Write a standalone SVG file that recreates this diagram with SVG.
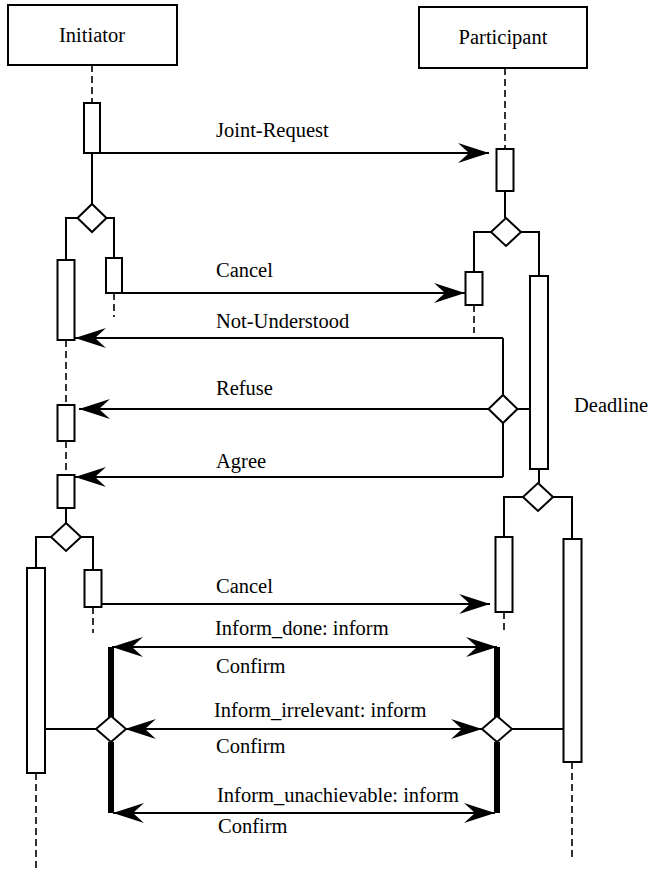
<svg xmlns="http://www.w3.org/2000/svg" width="648" height="871" viewBox="0 0 648 871">
<defs>
<style>
text{font-family:"Liberation Serif","Times New Roman",serif;font-size:20.5px;fill:#000}
.box{fill:#fff;stroke:#000;stroke-width:2}
.act{fill:#fff;stroke:#000;stroke-width:2}
.dia{fill:#fff;stroke:#000;stroke-width:2}
.ln{fill:none;stroke:#000;stroke-width:2}
.dash{fill:none;stroke:#000;stroke-width:1.6;stroke-dasharray:7,4}
.thick{fill:none;stroke:#000;stroke-width:6}
.msg{fill:none;stroke:#000;stroke-width:2}
</style>
<marker id="ah" markerUnits="userSpaceOnUse" markerWidth="34" markerHeight="24" refX="31" refY="11" orient="auto-start-reverse" viewBox="0 0 34 24">
<path d="M31,11 L0,1 L11,11 L0,21 Z" fill="#000"/>
</marker>
</defs>
<rect width="648" height="871" fill="#fff"/>

<g id="initiator">
<rect class="box" x="8" y="5" width="169" height="60"/>
<text x="92" y="42" text-anchor="middle">Initiator</text>
</g>
<g id="participant">
<rect class="box" x="419" y="7" width="168" height="61"/>
<text x="503" y="44" text-anchor="middle">Participant</text>
</g>

<g id="connectors">
<path class="dash" d="M92,65 V103"/>
<path class="ln" d="M92,153 V204"/>
<path class="ln" d="M77.5,218 H66 V260"/>
<path class="ln" d="M106.5,218 H114 V258"/>
<path class="dash" d="M114,293 V317"/>
<path class="dash" d="M66,340 V405"/>
<path class="dash" d="M66,441 V475"/>
<path class="ln" d="M66,508 V523"/>
<path class="ln" d="M51,537 H36 V568"/>
<path class="ln" d="M81,537 H93 V570"/>
<path class="dash" d="M93,607 V633"/>
<path class="dash" d="M36,773 V871"/>

<path class="dash" d="M505,68 V149"/>
<path class="ln" d="M505,191 V218"/>
<path class="ln" d="M491,232 H474 V272"/>
<path class="ln" d="M521,232 H539 V276"/>
<path class="dash" d="M474,305 V333"/>
<path class="ln" d="M503,338 V395"/>
<path class="ln" d="M503,423 V477"/>
<path class="ln" d="M517.5,409 H530"/>
<path class="ln" d="M539,469 V483"/>
<path class="ln" d="M523,497 H504 V537"/>
<path class="ln" d="M553,497 H572 V539"/>
<path class="dash" d="M504,612 V633"/>
<path class="dash" d="M572,762 V858"/>

<path class="msg" d="M100,153 H489" marker-end="url(#ah)"/>
<path class="msg" d="M122,293 H465" marker-end="url(#ah)"/>
<path class="msg" d="M503,338 H75" marker-end="url(#ah)"/>
<path class="msg" d="M488.5,409 H79" marker-end="url(#ah)"/>
<path class="msg" d="M503,477 H75" marker-end="url(#ah)"/>
<path class="msg" d="M101.5,604 H490" marker-end="url(#ah)"/>

<path class="thick" d="M111,647 V717"/>
<path class="thick" d="M497,647 V717"/>
<path class="thick" d="M111,742 V813"/>
<path class="thick" d="M497,742 V813"/>
<path class="msg" d="M112,647 H497" marker-start="url(#ah)" marker-end="url(#ah)"/>
<path class="msg" d="M125,729 H482" marker-start="url(#ah)" marker-end="url(#ah)"/>
<path class="msg" d="M113,813 H495" marker-start="url(#ah)" marker-end="url(#ah)"/>
<path class="ln" d="M45,729 H96"/>
<path class="ln" d="M512,729 H563.5"/>
</g>

<g id="act-i1"><rect class="act" x="84" y="103" width="16" height="50"/></g>
<g id="dec-i1"><path class="dia" d="M92,204 L106.5,218 L92,232 L77.5,218 Z"/></g>
<g id="act-i2"><rect class="act" x="57.5" y="260" width="17" height="80"/></g>
<g id="act-i3"><rect class="act" x="106" y="258" width="16" height="35"/></g>
<g id="act-i4"><rect class="act" x="57.5" y="405" width="17" height="36"/></g>
<g id="act-i5"><rect class="act" x="57.5" y="475" width="17" height="33"/></g>
<g id="dec-i2"><path class="dia" d="M66,523 L81,537 L66,551 L51,537 Z"/></g>
<g id="act-i6"><rect class="act" x="27" y="568" width="18" height="205"/></g>
<g id="act-i7"><rect class="act" x="84.5" y="570" width="17" height="37"/></g>
<g id="dec-i3"><path class="dia" d="M111,716 L126,729 L111,742 L96,729 Z"/></g>

<g id="act-p1"><rect class="act" x="496.5" y="149" width="17" height="42"/></g>
<g id="dec-p1"><path class="dia" d="M506,218 L521,232 L506,246 L491,232 Z"/></g>
<g id="act-p2"><rect class="act" x="465.5" y="272" width="17" height="33"/></g>
<g id="act-p3"><rect class="act" x="530" y="276" width="18" height="193"/></g>
<g id="dec-p2"><path class="dia" d="M503,395 L517.5,409 L503,423 L488.5,409 Z"/></g>
<g id="dec-p3"><path class="dia" d="M538,483 L553,497 L538,511 L523,497 Z"/></g>
<g id="act-p4"><rect class="act" x="495.5" y="537" width="17" height="75"/></g>
<g id="act-p5"><rect class="act" x="563.5" y="539" width="18" height="223"/></g>
<g id="dec-p4"><path class="dia" d="M497,716 L512,729 L497,742 L482,729 Z"/></g>

<g id="labels">
<text x="216" y="137">Joint-Request</text>
<text x="216" y="277">Cancel</text>
<text x="216" y="328">Not-Understood</text>
<text x="216" y="395">Refuse</text>
<text x="574" y="412">Deadline</text>
<text x="216" y="468">Agree</text>
<text x="216" y="593">Cancel</text>
<text x="215" y="635">Inform_done: inform</text>
<text x="216" y="673">Confirm</text>
<text x="214" y="717">Inform_irrelevant: inform</text>
<text x="216" y="753">Confirm</text>
<text x="217" y="802">Inform_unachievable: inform</text>
<text x="218" y="833">Confirm</text>
</g>
</svg>
